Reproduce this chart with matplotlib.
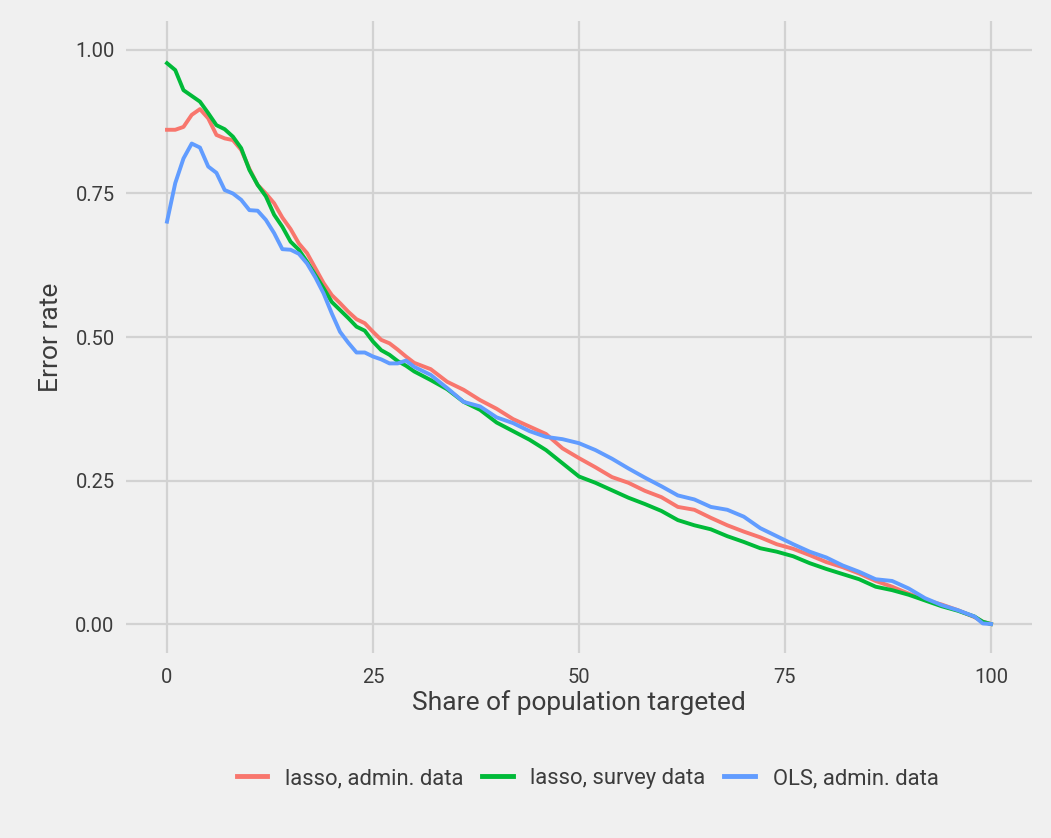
import matplotlib
matplotlib.use("Agg")
import matplotlib.pyplot as plt

share = list(range(0, 31)) + list(range(32, 99, 2)) + [99, 100]

lasso_admin = [0.861, 0.861, 0.866, 0.887, 0.897, 0.881, 0.852, 0.846, 0.843, 0.826,
               0.793, 0.765, 0.750, 0.733, 0.708, 0.688, 0.663, 0.646, 0.620, 0.594,
               0.573, 0.559, 0.544, 0.531, 0.524, 0.509, 0.495, 0.489, 0.478, 0.466,
               0.455,
               0.444, 0.422, 0.408, 0.390, 0.375, 0.357, 0.344, 0.331, 0.306, 0.289,
               0.273, 0.256, 0.246, 0.232, 0.221, 0.204, 0.199, 0.185, 0.172, 0.161,
               0.151, 0.139, 0.131, 0.120, 0.108, 0.099, 0.088, 0.075, 0.065, 0.053,
               0.042, 0.034, 0.024, 0.012,
               0.004, 0.0]

lasso_survey = [0.977, 0.965, 0.930, 0.920, 0.910, 0.890, 0.869, 0.862, 0.849, 0.829,
                0.791, 0.765, 0.745, 0.713, 0.692, 0.666, 0.652, 0.631, 0.608, 0.585,
                0.561, 0.547, 0.533, 0.518, 0.511, 0.492, 0.477, 0.469, 0.458, 0.450,
                0.440,
                0.425, 0.409, 0.387, 0.373, 0.351, 0.336, 0.321, 0.303, 0.280, 0.257,
                0.246, 0.233, 0.220, 0.209, 0.197, 0.181, 0.172, 0.165, 0.153, 0.143,
                0.132, 0.126, 0.118, 0.106, 0.096, 0.087, 0.078, 0.065, 0.059, 0.051,
                0.041, 0.031, 0.023, 0.013,
                0.004, 0.0]

ols_admin = [0.701, 0.768, 0.811, 0.837, 0.830, 0.797, 0.786, 0.756, 0.750, 0.739,
             0.721, 0.720, 0.704, 0.681, 0.653, 0.652, 0.645, 0.628, 0.604, 0.576,
             0.541, 0.509, 0.490, 0.473, 0.473, 0.466, 0.461, 0.454, 0.454, 0.459,
             0.448,
             0.434, 0.411, 0.387, 0.379, 0.360, 0.350, 0.336, 0.326, 0.322, 0.315,
             0.303, 0.288, 0.271, 0.255, 0.240, 0.224, 0.217, 0.204, 0.199, 0.187,
             0.167, 0.153, 0.139, 0.126, 0.116, 0.102, 0.091, 0.078, 0.075, 0.062,
             0.045, 0.033, 0.024, 0.013,
             0.001, 0.0]

series_labels = ["lasso, admin. data", "lasso, survey data", "OLS, admin. data"]
series_colors = ["#F8766D", "#00BA38", "#619CFF"]
x_ticks = [0, 25, 50, 75, 100]
y_ticks = [0.0, 0.25, 0.5, 0.75, 1.0]
y_ticklabels = ["0.00", "0.25", "0.50", "0.75", "1.00"]

plt.rcParams['font.family'] = ['Roboto', 'DejaVu Sans']
bg = "#F0F0F0"
txt = "#3C3C3C"

fig = plt.figure(figsize=(10.51, 8.38), dpi=100, facecolor=bg)
ax = fig.add_axes([0.1197, 0.2211, 0.8624, 0.7535], facecolor=bg)

for ys, lab, col in zip([lasso_admin, lasso_survey, ols_admin], series_labels, series_colors):
    ax.plot(share, ys, color=col, lw=2.8, label=lab, solid_joinstyle='round', zorder=3)

ax.set_xlim(-5, 105)
ax.set_ylim(-0.05, 1.05)
ax.set_xticks(x_ticks)
ax.set_yticks(y_ticks)
ax.set_yticklabels(y_ticklabels)
ax.grid(True, color="#D2D2D2", lw=1.6, zorder=0)
for s in ax.spines.values():
    s.set_visible(False)
ax.tick_params(axis='x', length=0, labelsize=14.5, labelcolor=txt, pad=11)
ax.tick_params(axis='y', length=0, labelsize=14.5, labelcolor=txt, pad=8)
ax.set_xlabel("Share of population targeted", fontsize=19, color=txt, labelpad=2)
ax.set_ylabel("Error rate", fontsize=19, color=txt, labelpad=9)

leg = fig.legend(loc="center", bbox_to_anchor=(0.559, 0.071), ncol=3, frameon=False,
                 fontsize=15.8, handlelength=1.4, handletextpad=0.8, columnspacing=0.85)
for t in leg.get_texts():
    t.set_color(txt)
for h in leg.get_lines():
    h.set_linewidth(3.5)

fig.savefig("out.png", dpi=100, facecolor=bg)
